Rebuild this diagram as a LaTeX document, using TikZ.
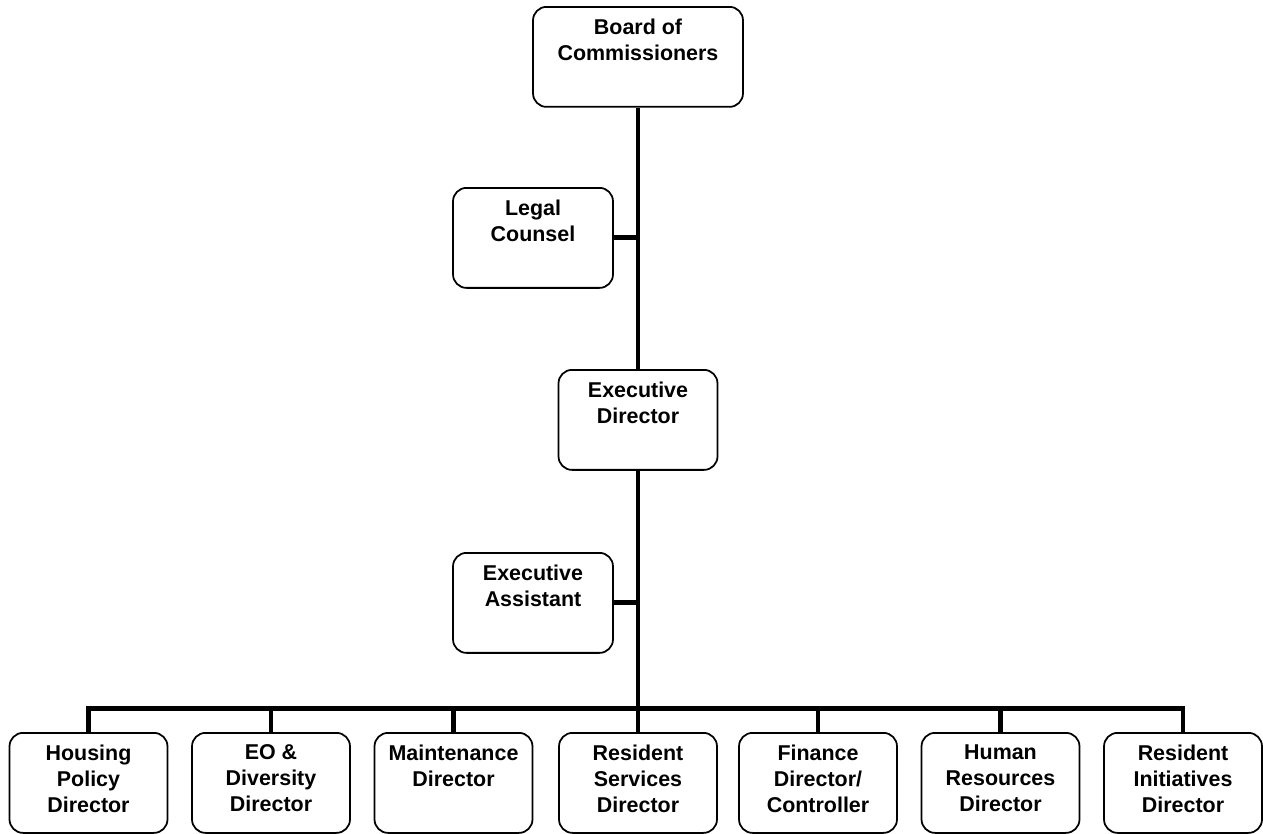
\documentclass[tikz,border=0pt]{standalone}
\usepackage{fontspec}
\setmainfont{Liberation Sans}
\newcommand{\postname}[2][3.1cm]{\parbox[t][1.52cm][t]{#1}{\centering #2}}
\tikzset{
  post/.style={draw,line width=1pt,rounded corners=0.27cm,fill=white,anchor=north,inner xsep=0pt,inner ysep=0.24cm,minimum width=3.16cm,font=\bfseries\fontsize{12.2}{14.8}\selectfont},
  link/.style={line width=2.8pt}
}
\begin{document}
\begin{tikzpicture}[x=0.02cm,y=-0.02cm]
\useasboundingbox (0,0) rectangle (1263,833);
\node[post,minimum width=4.2cm] (board) at (638,6) {\postname[4cm]{Board of\\Commissioners}};
\node[post,minimum width=3.2cm] (legal) at (533,187) {\postname{Legal\\Counsel}};
\node[post,minimum width=3.18cm] (execdir) at (638,369) {\postname{Executive\\Director}};
\node[post,minimum width=3.2cm] (assistant) at (533,552) {\postname{Executive\\Assistant}};
\coordinate (bus) at (638,708.5);

\foreach \x/\name/\txt in {88.5/housing/{Housing\\Policy\\Director},271/eo/{EO \&\\Diversity\\Director},453.5/maint/{Maintenance\\Director},638/ressvc/{Resident\\Services\\Director},818/finance/{Finance\\Director/\\Controller},1000.5/hr/{Human\\Resources\\Director},1183/resinit/{Resident\\Initiatives\\Director}}
  \node[post] (\name) at (\x,732) {\postname{\txt}};

\draw[link] (board) -- (execdir);
\draw[link] (execdir) -- (bus);
\draw[link] (legal) -- (legal -| board);
\draw[link] (assistant) -- (assistant -| execdir);
\draw[link] (housing.north) |- (bus) -| (resinit.north);
\foreach \name in {eo,maint,ressvc,finance,hr}
  \draw[link] (\name.north) -- (\name.north |- bus);
\end{tikzpicture}
\end{document}
